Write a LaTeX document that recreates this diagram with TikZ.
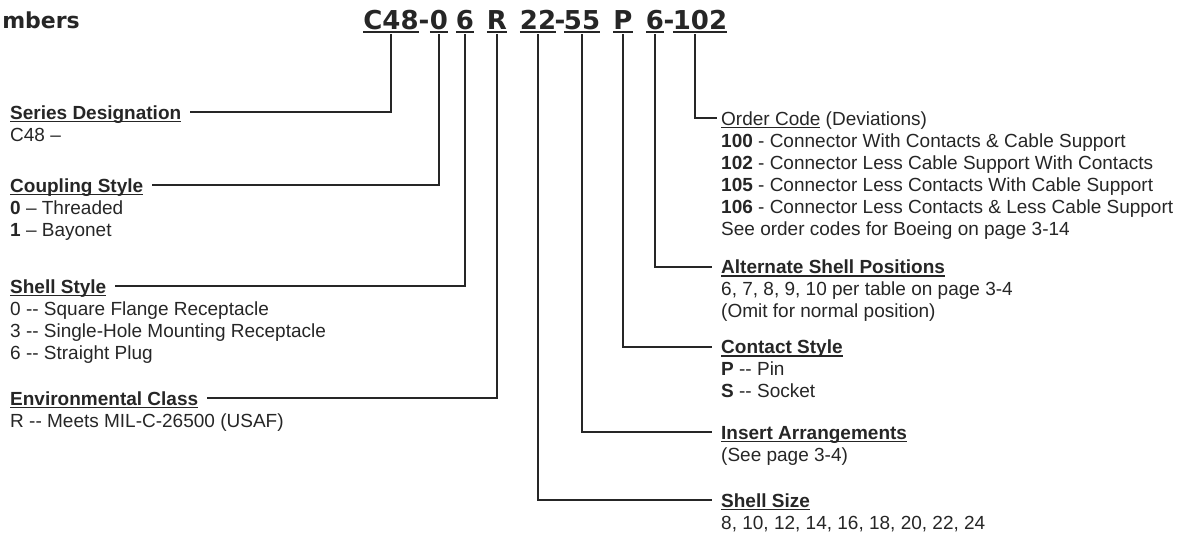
\documentclass[tikz,border=0pt]{standalone}
\usepackage{fontspec}
\setmainfont{Liberation Sans}
\newfontfamily\pnfont{DejaVu Sans}
\usetikzlibrary{positioning}
\definecolor{ink}{HTML}{262626}
\newcommand{\uln}[1]{\leavevmode\setbox0=\hbox{#1}\rlap{\rule[-0.16em]{\wd0}{0.065em}}\box0\relax}

\begin{document}
\begin{tikzpicture}[
        x=1pt, y=-1pt,
        title/.style={
            font=\pnfont\bfseries\fontsize{22}{26}\selectfont,
            text=ink, inner sep=0pt, anchor=base east
        },
        seg/.style={
            font=\pnfont\bfseries\fontsize{26}{30}\selectfont,
            text=ink, inner sep=0pt,
            text height=19pt, text depth=5pt,
            anchor=base
        },
        head/.style={
            font=\fontsize{19}{22}\selectfont\bfseries,
            text=ink, inner sep=0pt,
            text height=13.5pt, text depth=0pt,
            anchor=base west
        },
        items/.style={
            font=\fontsize{19}{22}\selectfont,
            text=ink, inner sep=0pt
        },
        lead/.style={
            draw=ink, line width=2.4pt,
            shorten >=9pt
        }
    ]
    \useasboundingbox (0,0) rectangle (1188,536);

    \node[title] (title) at (80,28) {mbers};

    % part number
    \node[seg] (pn-c48) at (391,29) {\uln{C48}};
    \node[seg] (dash1) at (424,29) {-};
    \node[seg] (pn-cpl) at (439,29) {\uln{0}};
    \node[seg] (pn-shl) at (465,29) {\uln{6}};
    \node[seg] (pn-env) at (497,29) {\uln{R}};
    \node[seg] (pn-size) at (538,29) {\uln{22}};
    \node[seg] (dash2) at (560,29) {-};
    \node[seg] (pn-ins) at (582,29) {\uln{55}};
    \node[seg] (pn-cnt) at (623,29) {\uln{P}};
    \node[seg] (pn-alt) at (655,29) {\uln{6}};
    \node[seg] (dash3) at (669,29) {-};
    \node[seg] (pn-ord) at (700,29) {\uln{102}};

    % left column
    \node[head] (series) at (10,119) {\uln{Series Designation}};
    \node[items, below=22pt of series.base west, anchor=base west] (series-list)
        {\begin{tabular}[t]{@{}l@{}}C48 –\end{tabular}};

    \node[head] (coupling) at (10,192) {\uln{Coupling Style}};
    \node[items, below=22pt of coupling.base west, anchor=base west] (coupling-list)
        {\begin{tabular}[t]{@{}l@{}}\textbf{0} – Threaded\\ \textbf{1} – Bayonet\end{tabular}};

    \node[head] (shellstyle) at (10,293) {\uln{Shell Style}};
    \node[items, below=22pt of shellstyle.base west, anchor=base west] (shellstyle-list)
        {\begin{tabular}[t]{@{}l@{}}0 -{}- Square Flange Receptacle\\ 3 -{}- Single-Hole Mounting Receptacle\\ 6 -{}- Straight Plug\end{tabular}};

    \node[head] (envclass) at (10,405) {\uln{Environmental Class}};
    \node[items, below=22pt of envclass.base west, anchor=base west] (envclass-list)
        {\begin{tabular}[t]{@{}l@{}}R -{}- Meets MIL-C-26500 (USAF)\end{tabular}};

    % right column
    \node[head] (ordercode) at (721,125) {\mdseries\uln{Order Code} (Deviations)};
    \node[items, below=22pt of ordercode.base west, anchor=base west] (ordercode-list)
        {\begin{tabular}[t]{@{}l@{}}\textbf{100} - Connector With Contacts \& Cable Support\\
        \textbf{102} - Connector Less Cable Support With Contacts\\
        \textbf{105} - Connector Less Contacts With Cable Support\\
        \textbf{106} - Connector Less Contacts \& Less Cable Support\\
        See order codes for Boeing on page 3-14\end{tabular}};

    \node[head] (altshell) at (721,273.5) {\uln{Alternate Shell Positions}};
    \node[items, below=22pt of altshell.base west, anchor=base west] (altshell-list)
        {\begin{tabular}[t]{@{}l@{}}6, 7, 8, 9, 10 per table on page 3-4\\ (Omit for normal position)\end{tabular}};

    \node[head] (contact) at (721,353.5) {\uln{Contact Style}};
    \node[items, below=22pt of contact.base west, anchor=base west] (contact-list)
        {\begin{tabular}[t]{@{}l@{}}\textbf{P} -{}- Pin\\ \textbf{S} -{}- Socket\end{tabular}};

    \node[head] (insert) at (721,439) {\uln{Insert Arrangements}};
    \node[items, below=22pt of insert.base west, anchor=base west] (insert-list)
        {\begin{tabular}[t]{@{}l@{}}(See page 3-4)\end{tabular}};

    \node[head] (shellsize) at (721,507) {\uln{Shell Size}};
    \node[items, below=22pt of shellsize.base west, anchor=base west] (shellsize-list)
        {\begin{tabular}[t]{@{}l@{}}8, 10, 12, 14, 16, 18, 20, 22, 24\end{tabular}};

    \draw[lead] (pn-c48.south) |- (series.east);
    \draw[lead] (pn-cpl.south) |- (coupling.east);
    \draw[lead] (pn-shl.south) |- (shellstyle.east);
    \draw[lead] (pn-env.south) |- (envclass.east);
    \draw[lead] (pn-size.south) |- (shellsize.west);
    \draw[lead] (pn-ins.south) |- (insert.west);
    \draw[lead] (pn-cnt.south) |- (contact.west);
    \draw[lead] (pn-alt.south) |- (altshell.west);
    \draw[lead, shorten >=4pt] ([xshift=-5pt]pn-ord.south) |- (ordercode.west);

\end{tikzpicture}
\end{document}
